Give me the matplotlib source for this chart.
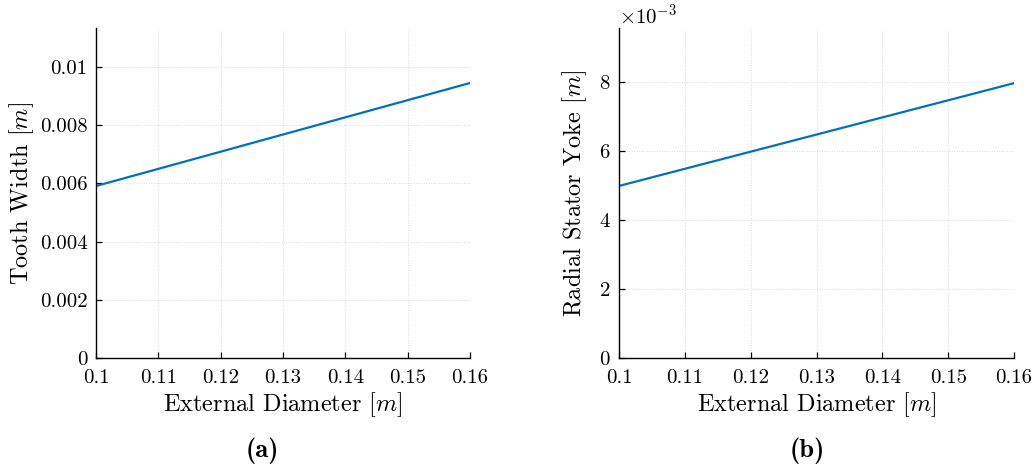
import numpy as np
import matplotlib
matplotlib.use('Agg')
import matplotlib.pyplot as plt

plt.rcParams['font.family'] = 'serif'
plt.rcParams['font.serif'] = ['cmr10']
plt.rcParams['mathtext.fontset'] = 'cm'
plt.rcParams['axes.formatter.use_mathtext'] = True
plt.rcParams['axes.unicode_minus'] = False

# data
ext_diameter = [0.10, 0.16]
tooth_width = [0.00591, 0.00945]
stator_yoke = [0.00499, 0.00797]

x_ticks = [0.1, 0.11, 0.12, 0.13, 0.14, 0.15, 0.16]
x_ticklabels = ['0.1', '0.11', '0.12', '0.13', '0.14', '0.15', '0.16']
tw_ticks = [0, 0.002, 0.004, 0.006, 0.008, 0.01]
tw_ticklabels = ['0', '0.002', '0.004', '0.006', '0.008', '0.01']
sy_ticks = [0, 0.002, 0.004, 0.006, 0.008]

line_color = '#0072BD'


def style_axes(ax):
    for s in ['top', 'right']:
        ax.spines[s].set_visible(False)
    for s in ['left', 'bottom']:
        ax.spines[s].set_linewidth(1.0)
    ax.tick_params(direction='in', length=4, width=0.9, labelsize=15)
    ax.tick_params(axis='x', pad=8)
    ax.tick_params(axis='y', pad=6)
    ax.grid(True, linestyle=(0, (1, 2)), color='#cfcfcf', linewidth=0.6)
    ax.set_axisbelow(True)
    ax.set_xlim(0.1, 0.16)
    ax.set_xticks(x_ticks)
    ax.set_xticklabels(x_ticklabels)
    ax.set_xlabel(r'External Diameter $[m]$', fontsize=17.5, labelpad=2)


fig = plt.figure(figsize=(10.35, 4.72), dpi=100)
ax1 = fig.add_axes([0.0928, 0.2415, 0.3613, 0.6992])
ax2 = fig.add_axes([0.5981, 0.2415, 0.3816, 0.6992])

ax1.plot(ext_diameter, tooth_width, color=line_color, linewidth=1.6)
style_axes(ax1)
ax1.set_ylim(0, 0.01134)
ax1.set_yticks(tw_ticks)
ax1.set_yticklabels(tw_ticklabels)
ax1.set_ylabel(r'Tooth Width $[m]$', fontsize=17.5, labelpad=3)

ax2.plot(ext_diameter, stator_yoke, color=line_color, linewidth=1.6)
style_axes(ax2)
ax2.set_ylim(0, 0.00957)
ax2.set_yticks(sy_ticks)
ax2.ticklabel_format(axis='y', style='sci', scilimits=(-3, -3), useMathText=True)
ax2.yaxis.get_offset_text().set_fontsize(15)
ax2.set_ylabel(r'Radial Stator Yoke $[m]$', fontsize=17.5, labelpad=7)

fig.text(0.2535, 0.0445, '(a)', ha='center', va='center', fontsize=19, family='cmb10')
fig.text(0.7802, 0.0445, '(b)', ha='center', va='center', fontsize=19, family='cmb10')

fig.savefig('out.png', dpi=100)
